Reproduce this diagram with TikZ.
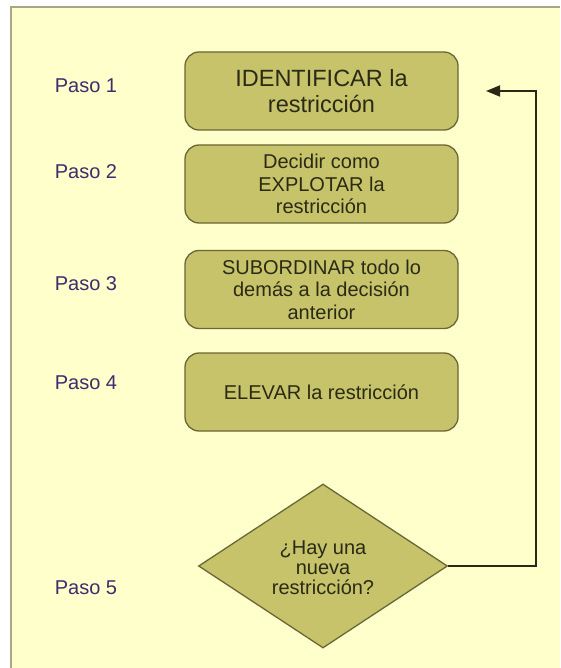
\documentclass[tikz,border=0pt]{standalone}
\usepackage{fontspec}
\setmainfont{Liberation Sans}
\usetikzlibrary{shapes.geometric,arrows.meta}
\definecolor{bgc}{HTML}{FFFFCC}
\definecolor{framec}{HTML}{A8A68A}
\definecolor{boxfill}{HTML}{C6C36B}
\definecolor{boxline}{HTML}{6B6636}
\definecolor{boxtext}{HTML}{2B2A14}
\definecolor{pasoc}{HTML}{3E2C6E}
\definecolor{arrowc}{HTML}{2A2814}
\begin{document}
\begin{tikzpicture}[x=1pt,y=-1pt,
  stepbox/.style={draw=boxline, line width=1.3pt, fill=boxfill, rounded corners=14pt,
    minimum width=273pt, minimum height=78pt, align=center, text=boxtext,
    font=\fontsize{20}{22.5}\selectfont, inner sep=2pt},
  decbox/.style={draw=boxline, line width=1.3pt, fill=boxfill, shape=diamond,
    aspect=1.52, inner sep=0pt, minimum width=249pt, minimum height=164pt,
    align=center, text=boxtext, font=\fontsize{20}{20}\selectfont},
  pasolbl/.style={text=pasoc, font=\fontsize{20}{22}\selectfont, inner sep=0pt},
  link/.style={draw=arrowc, line width=1.8pt, -{Triangle[length=14pt,width=11pt]}}
]
\useasboundingbox (0,0) rectangle (560,668);
\fill[white] (0,0) rectangle (560,668);
\fill[bgc] (11,7) rectangle (560,668);
\draw[framec, line width=1.2pt] (11,668) -- (11,7) -- (560,7);

\node[stepbox, font=\fontsize{23.5}{26}\selectfont] (b1) at (321.5,91) {IDENTIFICAR la\\restricción};
\node[stepbox] (b2) at (321.5,184) {Decidir como\\EXPLOTAR la\\restricción};
\node[stepbox] (b3) at (321.5,289.5) {SUBORDINAR todo lo\\demás a la decisión\\anterior};
\node[stepbox] (b4) at (321.5,392) {ELEVAR la restricción};
\node[decbox] (d5) at (323,566) {\\[-2pt]¿Hay una\\nueva\\restricción?};

\node[pasolbl] (p1) at (86,86) {Paso 1};
\node[pasolbl] (p2) at (86,172) {Paso 2};
\node[pasolbl] (p3) at (86,284) {Paso 3};
\node[pasolbl] (p4) at (86,383) {Paso 4};
\node[pasolbl] (p5) at (86,588) {Paso 5};

\coordinate (tip) at (486,91);
\coordinate (corner) at (536,91);
\draw[link] (d5.east) -| (corner) -- (tip);
\end{tikzpicture}
\end{document}
